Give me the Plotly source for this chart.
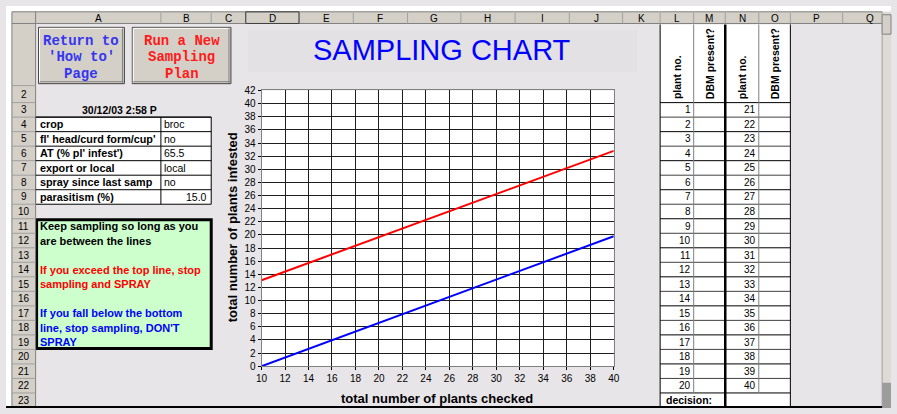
import plotly.graph_objects as go

W, H = 897, 414

# ---- chart data ----
checked = [10, 20, 30, 40]
spray_line = [13.1, 19.7, 26.3, 32.8]   # upper decision line
stop_line = [0.0, 6.6, 13.2, 19.8]      # lower decision line

# ---- sheet content ----
col_letters = ["A", "B", "C", "D", "E", "F", "G", "H", "I", "J", "K", "L", "M", "N", "O", "P", "Q"]
col_edges = [30, 157, 208, 243, 297, 352, 407, 461, 516, 571, 625, 663, 697, 729, 763, 795, 848, 904]
info_labels = ["crop", "fl' head/curd form/cup'", "AT (% pl' infest')", "export or local",
               "spray since last samp", "parasitism (%)"]
info_values = ["broc", "no", "65.5", "local", "no", "15.0"]
stamp = "30/12/03 2:58 P"
advice = [
    ("Keep sampling so long as you", "black"),
    ("are between the lines", "black"),
    ("", "black"),
    ("If you exceed the top line, stop", "#ff0000"),
    ("sampling and SPRAY", "#ff0000"),
    ("", "black"),
    ("If you fall below the bottom", "#0000ff"),
    ("line, stop sampling, DON'T", "#0000ff"),
    ("SPRAY", "#0000ff"),
]
plants_first = list(range(1, 21))
plants_second = list(range(21, 41))

SHEET = "#e8e5e8"
FACE = "#d4d0c8"
SANS = "Liberation Sans, Arial"
MONO = "Liberation Mono, Courier New"


def X(px):
    return px / W


def Y(py):
    return 1 - py / H


def row_top(n):
    if n == 1:
        return 18
    if n == 2:
        return 82
    return 99.5 + (n - 3) * 14.95


def row_mid(n):
    return (row_top(n) + row_top(n + 1)) / 2


shapes = []
annotations = []


def rect(x0, y0, x1, y1, fill=None, line=None, width=1, layer="below"):
    shapes.append(dict(type="rect", xref="paper", yref="paper",
                       x0=X(x0), x1=X(x1), y0=Y(y1), y1=Y(y0),
                       fillcolor=fill if fill else "rgba(0,0,0,0)",
                       line=dict(color=line if line else "rgba(0,0,0,0)", width=width if line else 0),
                       layer=layer))


def seg(x0, y0, x1, y1, color="black", width=1, layer="above"):
    shapes.append(dict(type="line", xref="paper", yref="paper",
                       x0=X(x0), x1=X(x1), y0=Y(y0), y1=Y(y1),
                       line=dict(color=color, width=width), layer=layer))


def text(s, x, y, size=10, color="black", bold=False, anchor="left", family=SANS, angle=0, yanchor="middle"):
    annotations.append(dict(text=f"<b>{s}</b>" if bold else s, x=X(x), y=Y(y),
                            xref="paper", yref="paper", xanchor=anchor, yanchor=yanchor,
                            showarrow=False, textangle=angle, borderpad=0,
                            font=dict(size=size, color=color, family=family)))


# window frame: white strips, column header row, row header column
rect(0, 0, W, 6, fill="white")
rect(0, 0, 6, H, fill="white")
rect(6, 6, 888, 18, fill=FACE)
rect(6, 6, 30, H, fill=FACE)
seg(6, 6, 888, 6, "#808080")
seg(6, 6, 6, H, "#808080")
seg(6, 18, 888, 18, "#808080")
seg(30, 6, 30, H, "#808080")
for i, letter in enumerate(col_letters):
    a, b = col_edges[i], col_edges[i + 1]
    if b < 888:
        seg(b, 7, b, 18, "#a0a0a0")
    text(letter, (a + b) / 2, 12.5, size=10, anchor="center")
rect(243, 6, 297, 18, line="#404040", width=1, layer="above")

for n in range(1, 24):
    seg(6, row_top(n + 1), 30, row_top(n + 1), "#a0a0a0")
    if n >= 2:
        text(str(n), 18, row_mid(n), size=10, anchor="center")

# scrollbar
rect(888, 6, W, H, fill="#dedad4")
seg(888, 6, 888, H, "#a0a0a0")
rect(888, 9, W, 29, fill=FACE, line="#808080")
rect(888, 388, W, H, fill="#9c9c9c")

# buttons
def button(x0, y0, x1, y1, lines, color):
    rect(x0, y0, x1, y1, fill=FACE, line="#404040")
    seg(x0 + 1, y0 + 1, x1 - 1, y0 + 1, "white")
    seg(x0 + 1, y0 + 1, x0 + 1, y1 - 1, "white")
    seg(x0 + 1, y1 - 2, x1 - 1, y1 - 2, "#808080")
    seg(x1 - 2, y0 + 1, x1 - 2, y1 - 1, "#808080")
    cx = (x0 + x1) / 2
    for k, s in enumerate(lines):
        text(s, cx, 36 + k * 16.8, size=14, color=color, bold=True, anchor="center", family=MONO)


button(33, 22, 120, 80, ["Return to", "'How to'", "Page"], "#3535f0")
button(128, 22, 228, 80, ["Run a New", "Sampling", "Plan"], "#ff1a1a")

# title band
rect(245, 25, 640, 68, fill="#e3e1e3")
text("SAMPLING CHART", 442, 45, size=29, color="#0000ff", anchor="center")

# info table
text(stamp, 115, row_mid(3), size=10.5, bold=True, anchor="center")
t0, t1 = row_top(4), row_top(10)
rect(30, t0, 208, t1, fill="white", line="black")
for k in range(len(info_labels)):
    n = 4 + k
    seg(30, row_top(n), 208, row_top(n), "black")
    text(info_labels[k], 33, row_mid(n), size=10.8, bold=True)
    if k == len(info_labels) - 1:
        text(info_values[k], 205, row_mid(n), size=10.5, anchor="right")
    else:
        text(info_values[k], 159, row_mid(n), size=10.5)
seg(157, t0, 157, t1, "black")

# advice box
rect(31, row_top(11) + 1, 208, row_top(20) - 1, fill="#ccffcc", line="black", width=3)
for k, (s, c) in enumerate(advice):
    if s:
        text(s, 33, row_mid(11 + k), size=11, color=c, bold=True)

# plant record table
top = 19
rect(663, top, 795, H, fill="white")
for n in range(3, 24):
    yy = row_top(n)
    seg(663, yy, 795, yy, "black" if n % 2 else "#404040")
for xx, c, w in [(663, "black", 1), (697, "#808080", 1), (729, "black", 2.5),
                 (763, "#808080", 1), (795, "black", 1)]:
    seg(xx, top, xx, row_top(23) if c == "#808080" else H, c, w)
for k in range(20):
    n = 3 + k
    text(str(plants_first[k]), 695, row_mid(n), size=10, anchor="right")
    text(str(plants_second[k]), 761, row_mid(n), size=10, anchor="right")
for cx, s in [(680, "plant no."), (713, "DBM present?"), (746, "plant no."), (779, "DBM present?")]:
    text(s, cx, 97, size=10.5, bold=True, anchor="center", angle=-90, yanchor="bottom")
text("decision:", 668, row_mid(23), size=10.5, bold=True)

# bottom edge of the window
seg(0, 413, 888, 413, "black", 2)

fig = go.Figure()
fig.add_trace(go.Scatter(x=checked, y=spray_line, mode="lines",
                         line=dict(color="#ff0000", width=2), hoverinfo="skip"))
fig.add_trace(go.Scatter(x=checked, y=stop_line, mode="lines",
                         line=dict(color="#0000ff", width=2), hoverinfo="skip"))

axis_font = dict(size=10, color="black", family=SANS)
fig.update_layout(
    width=W, height=H, margin=dict(l=0, r=0, t=0, b=0),
    paper_bgcolor=SHEET, plot_bgcolor="white", showlegend=False,
    xaxis=dict(domain=[X(259), X(616)], range=[10, 40], tick0=10, dtick=2,
               showgrid=True, gridcolor="#1e1e1e", gridwidth=1, zeroline=False,
               showline=True, linecolor="#808080", mirror=True,
               ticks="outside", ticklen=3, tickcolor="black", tickfont=axis_font),
    yaxis=dict(domain=[Y(371), Y(87)], range=[0, 42], tick0=0, dtick=2,
               showgrid=True, gridcolor="#1e1e1e", gridwidth=1, zeroline=False,
               showline=True, linecolor="#808080", mirror=True,
               ticks="outside", ticklen=3, tickcolor="black", tickfont=axis_font),
    shapes=shapes,
    annotations=annotations,
)
fig.add_annotation(text="<b>total number of plants checked</b>", x=X(437), y=Y(404),
                   xref="paper", yref="paper", showarrow=False, xanchor="center", yanchor="middle",
                   font=dict(size=13, color="black", family=SANS))
fig.add_annotation(text="<b>total number of plants infested</b>", x=X(229), y=Y(228),
                   xref="paper", yref="paper", showarrow=False, xanchor="center", yanchor="middle",
                   textangle=-90, font=dict(size=13, color="black", family=SANS))

fig.write_html("out.html", config={"displayModeBar": False},
               post_script="document.documentElement.style.margin='0';"
                           "document.body.style.margin='0';"
                           "document.body.style.overflow='hidden';")
